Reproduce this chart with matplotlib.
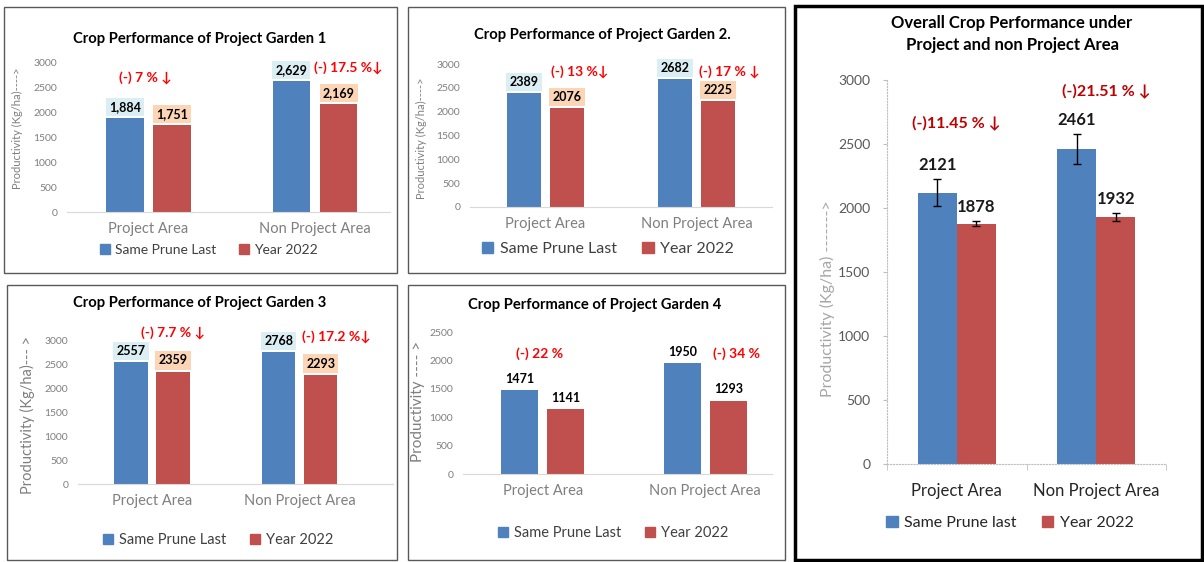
import matplotlib.pyplot as plt
from matplotlib.patches import Rectangle

plt.rcParams["font.family"] = ["Lato", "DejaVu Sans"]

# data
areas = ["Project Area", "Non Project Area"]
series = ["Same Prune Last", "Year 2022"]

g1_last = [1884, 2629]
g1_2022 = [1751, 2169]
g1_drop = ["(-) 7 % \u2193", "(-) 17.5 %\u2193"]

g2_last = [2389, 2682]
g2_2022 = [2076, 2225]
g2_drop = ["(-) 13 %\u2193", "(-) 17 % \u2193"]

g3_last = [2557, 2768]
g3_2022 = [2359, 2293]
g3_drop = ["(-) 7.7 % \u2193", "(-) 17.2 %\u2193"]

g4_last = [1471, 1950]
g4_2022 = [1141, 1293]
g4_drop = ["(-) 22 %", "(-) 34 %"]

all_last = [2121, 2461]
all_2022 = [1878, 1932]
all_last_err = [106, 120]
all_2022_err = [22, 30]
all_drop = ["(-)11.45 % \u2193", "(-)21.51 % \u2193"]

BLUE = "#4F81BD"
RED = "#C0504D"
GREY = "#7F7F7F"
W, H = 1204, 562

fig = plt.figure(figsize=(W / 100, H / 100), dpi=100)


def px_box(l, t, r, b):
    return [l / W, 1 - b / H, (r - l) / W, (b - t) / H]


def frame(l, t, r, b, lw=1.0, color="#595959"):
    fig.patches.append(Rectangle((l / W, 1 - b / H), (r - l) / W, (b - t) / H,
                                 transform=fig.transFigure, fill=False,
                                 lw=lw, ec=color))


def small_panel(rect, xlim, ymax, step, last, y22, drops, drop_pos, title,
                title_xy, ylabel, ylab_xy, ylab_fs, leg_xy, leg_fs, fmt,
                boxes, cat_fs=10.5, tick_fs=7.5):
    ax = fig.add_axes(px_box(*rect))
    x = range(len(areas))
    off, wd = 0.142, 0.225
    xa = [i - off for i in x]
    xb = [i + off for i in x]
    ax.bar(xa, last, wd, color=BLUE)
    ax.bar(xb, y22, wd, color=RED)
    ax.set_xlim(*xlim)
    ax.set_ylim(0, ymax)
    ax.set_yticks(range(0, ymax + 1, step))
    ax.set_xticks(list(x))
    ax.set_xticklabels(areas, fontsize=cat_fs, color=GREY)
    ax.tick_params(axis="x", length=0, pad=7)
    ax.tick_params(axis="y", length=0, labelsize=tick_fs, labelcolor=GREY, pad=7)
    for s in ["top", "right", "left"]:
        ax.spines[s].set_visible(False)
    ax.spines["bottom"].set_color("#D9D9D9")
    ax.set_ylabel(ylabel, fontsize=ylab_fs, color=GREY)
    ax.yaxis.set_label_coords(*ylab_xy)
    for xs, vals, bc in [(xa, last, "#DAEEF3"), (xb, y22, "#FBD5B5")]:
        for xi, v in zip(xs, vals):
            bb = dict(boxstyle="square,pad=0.25", fc=bc, ec="none") if boxes else None
            ax.annotate(fmt.format(v), (xi, v), xytext=(0, 8),
                        textcoords="offset points", ha="center", va="center",
                        fontsize=9, fontweight="bold", color="black",
                        bbox=bb, annotation_clip=False)
    for (dx, dy), txt, i in zip(drop_pos, drops, x):
        ax.text(i + dx, dy, txt, ha="center", va="center", color="#FF0000",
                fontsize=10, fontweight="bold", clip_on=False)
    fig.text(title_xy[0] / W, 1 - title_xy[1] / H, title, ha="center",
             va="center", fontsize=10.6, fontweight="bold")
    handles = [Rectangle((0, 0), 1, 1, color=BLUE), Rectangle((0, 0), 1, 1, color=RED)]
    fig.legend(handles, series, loc="center", ncol=2, frameon=False,
               bbox_to_anchor=(leg_xy[0] / W, 1 - leg_xy[1] / H),
               fontsize=leg_fs, handlelength=0.7, handleheight=0.7,
               handletextpad=0.4, columnspacing=1.6, labelcolor="#404040")
    return ax


small_panel((67, 63, 390, 212), (-0.49, 1.45), 3000, 500, g1_last, g1_2022,
            g1_drop, [(-0.02, 2700), (0.2, 2900)],
            "Crop Performance of Project Garden 1", (200, 39),
            "Productivity (Kg/ha)---->", (-0.136, 0.56), 8, (209, 250), 10,
            "{:,}", True)

small_panel((470, 64, 772, 207), (-0.5, 1.5), 3000, 500, g2_last, g2_2022,
            g2_drop, [(0.225, 2850), (0.22, 2850)],
            "Crop Performance of Project Garden 2.", (602, 35),
            "Productivity (Kg/ha)---->", (-0.142, 0.48), 8, (608, 249), 11.5,
            "{}", True)

small_panel((78, 341, 393, 484), (-0.5, 1.63), 3000, 500, g3_last, g3_2022,
            g3_drop, [(0.14, 3170), (0.25, 3090)],
            "Crop Performance of Project Garden 3", (200, 303),
            "Productivity (Kg/ha)--- >", (-0.137, 0.48), 10.5, (218, 540), 10.5,
            "{}", True)

small_panel((463, 332, 772, 474), (-0.49, 1.41), 2500, 500, g4_last, g4_2022,
            g4_drop, [(-0.02, 2113), (0.19, 2113)],
            "Crop Performance of Project Garden 4", (595, 305),
            "Productivity ---- >", (-0.123, 0.51), 11, (613, 533), 10.5,
            "{}", False)

# overall panel
ax = fig.add_axes(px_box(887, 80, 1166, 464))
x = range(len(areas))
xa = [i - 0.14 for i in x]
xb = [i + 0.14 for i in x]
ax.bar(xa, all_last, 0.28, color=BLUE, yerr=all_last_err, capsize=3,
       error_kw=dict(ecolor="black", elinewidth=1, capthick=1))
ax.bar(xb, all_2022, 0.28, color=RED, yerr=all_2022_err, capsize=3,
       error_kw=dict(ecolor="black", elinewidth=1, capthick=1))
for xs, vals, errs in [(xa, all_last, all_last_err), (xb, all_2022, all_2022_err)]:
    for xi, v, e in zip(xs, vals, errs):
        ax.annotate(str(v), (xi, v + e), xytext=(0, 10), textcoords="offset points",
                    ha="center", va="center", fontsize=12, fontweight="bold",
                    color="#1a1a1a")
for (dx, dy), txt, i in zip([(0.0, 2664), (0.07, 2914)], all_drop, x):
    ax.text(i + dx, dy, txt, ha="center", va="center", color="#C00000",
            fontsize=11.5, fontweight="bold")
ax.set_xlim(-0.5, 1.5)
ax.set_ylim(0, 3000)
ax.set_yticks(range(0, 3001, 500))
ax.set_xticks(list(x))
ax.set_xticklabels(areas, fontsize=12, color="#262626")
ax.set_xticks([-0.5, 0.5, 1.5], minor=True)
ax.tick_params(axis="x", which="major", length=0, pad=14)
ax.tick_params(axis="x", which="minor", length=4, color="#BFBFBF")
ax.tick_params(axis="y", length=3, color="#BFBFBF", labelsize=10,
               labelcolor="#595959", pad=9)
for s in ["top", "right"]:
    ax.spines[s].set_visible(False)
for s in ["left", "bottom"]:
    ax.spines[s].set_color("#BFBFBF")
    ax.spines[s].set_linestyle(":")
ax.set_ylabel("Productivity (Kg/ha) ------->", fontsize=11.5, color="#A6A6A6")
ax.yaxis.set_label_coords(-0.186, 0.43)
fig.text(1012 / W, 1 - 34 / H, "Overall Crop Performance under\nProject and non Project Area",
         ha="center", va="center", fontsize=12, fontweight="bold",
         linespacing=1.45)
handles = [Rectangle((0, 0), 1, 1, color=BLUE), Rectangle((0, 0), 1, 1, color=RED)]
fig.legend(handles, ["Same Prune last", "Year 2022"], loc="center", ncol=2,
           frameon=False, bbox_to_anchor=(1010 / W, 1 - 523 / H), fontsize=11.5,
           handlelength=0.7, handleheight=0.7, handletextpad=0.4,
           columnspacing=1.6, labelcolor="#262626")

frame(4, 7, 397, 273)
frame(408, 7, 785, 273)
frame(7, 285, 397, 560)
frame(408, 285, 785, 560)
frame(795, 6, 1202, 560, lw=2.5, color="black")

fig.savefig("out.png", dpi=100)
